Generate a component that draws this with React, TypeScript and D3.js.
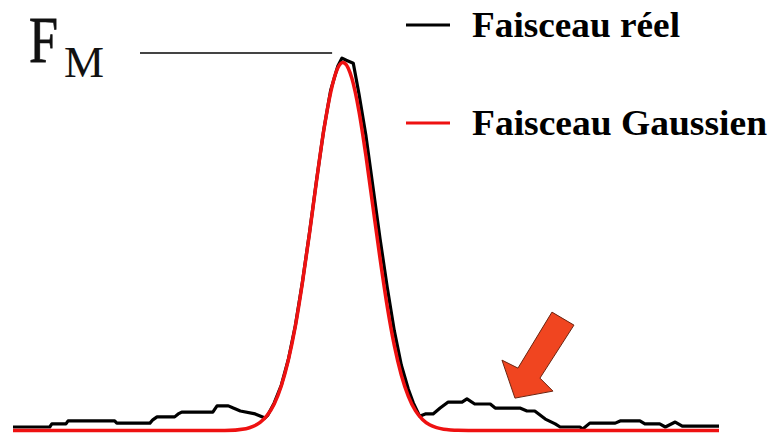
import { line, scaleLinear, curveLinear, curveMonotoneX } from 'd3';
import React from 'react';

// beam profile, position in arbitrary units, intensity normalised to the gaussian peak
const realPos = [
  0, 5.2, 5.5, 7.5, 7.8, 14.4, 14.7, 19.4, 19.8, 20.4, 22.9, 23.4, 23.9, 28.3, 28.9, 30.5,
  31.2, 32.2, 34.3, 35.7, 36.1, 37, 38, 39, 40, 41, 42, 43, 44, 45, 46, 46.6, 47.2, 48.2,
  49, 50, 51, 52, 53, 54, 55, 56, 56.7, 57.6, 58.4, 59.5, 60.5, 61.6, 63.6, 64.3, 65.4,
  67.6, 68.3, 71.8, 72.8, 73.9, 75.4, 76.8, 77.5, 80.3, 80.7, 81.7, 85.3, 86, 88.8, 89.5,
  91.6, 92.4, 93.8, 94.8, 100,
];
const realVal = [
  0.0095, 0.0095, 0.018, 0.018, 0.026, 0.026, 0.02, 0.02, 0.029, 0.037, 0.037, 0.045, 0.05,
  0.05, 0.067, 0.067, 0.061, 0.053, 0.045, 0.034, 0.042, 0.075, 0.123, 0.193, 0.286, 0.404,
  0.538, 0.681, 0.815, 0.925, 0.99, 1.012, 1.006, 0.998, 0.915, 0.8, 0.66, 0.52, 0.39, 0.272,
  0.178, 0.112, 0.075, 0.039, 0.045, 0.045, 0.061, 0.077, 0.077, 0.086, 0.072, 0.072, 0.061,
  0.061, 0.053, 0.053, 0.031, 0.018, 0.0095, 0.0095, 0.004, 0.02, 0.02, 0.026, 0.026, 0.018,
  0.018, 0.0095, 0.023, 0.012, 0.012,
];
const gaussPos = [
  0, 30, 33, 34, 35, 36, 37, 38, 39, 40, 41, 42, 43, 44, 45, 46, 46.7, 47, 48, 49, 50, 51,
  52, 53, 54, 55, 56, 57, 58, 59, 60, 61, 62, 63, 66, 100,
];
const gaussVal = [
  0, 0, 0.005, 0.011, 0.022, 0.041, 0.072, 0.121, 0.191, 0.284, 0.402, 0.536, 0.679, 0.813,
  0.919, 0.985, 1, 0.998, 0.957, 0.868, 0.745, 0.605, 0.466, 0.338, 0.232, 0.151, 0.093,
  0.054, 0.03, 0.0155, 0.0077, 0.0036, 0.0016, 0.0006, 0, 0,
];
const legendLabels = ['Faisceau réel', 'Faisceau Gaussien'];
const legendColors = ['#000000', '#ee1111'];
const legendWidths = [208, 295];
const fmLevel = 1.026;
const arrowTip = { pos: 71.1, val: 0.088 };

const W = 768;
const H = 433;

const App: React.FC = () => {
  const x = scaleLinear().domain([0, 100]).range([13, 719]);
  const y = scaleLinear().domain([0, 1]).range([430.5, 62.5]);

  const real = realPos.map((p, i) => ({ p, v: realVal[i] }));
  const gauss = gaussPos.map((p, i) => ({ p, v: gaussVal[i] }));

  const realLine = line<{ p: number; v: number }>()
    .x((d) => x(d.p))
    .y((d) => y(d.v))
    .curve(curveLinear);
  const gaussLine = line<{ p: number; v: number }>()
    .x((d) => x(d.p))
    .y((d) => y(d.v))
    .curve(curveMonotoneX);

  const tx = x(arrowTip.pos);
  const ty = y(arrowTip.val);
  const arrow = [
    [0, 0],
    [-13, -38],
    [3, -30],
    [37, -86],
    [59, -73],
    [25, -20],
    [38, -7],
  ]
    .map(([dx, dy]) => `${tx + dx},${ty + dy}`)
    .join(' ');

  return (
    <svg
      width={W}
      height={H}
      style={{ position: 'absolute', left: 0, top: 0, background: '#fff' }}
    >
      {/* F_M label and its level line */}
      <text
        x={29}
        y={62}
        fontFamily="'Liberation Serif', serif"
        fontSize={65}
        textLength={29}
        lengthAdjust="spacingAndGlyphs"
        fill="#111"
        stroke="#111"
        strokeWidth={0.8}
      >
        F
      </text>
      <text x={64} y={77} fontFamily="'Liberation Serif', serif" fontSize={45} fill="#111">
        M
      </text>
      <line
        x1={140}
        x2={x(45.2)}
        y1={y(fmLevel)}
        y2={y(fmLevel)}
        stroke="#444"
        strokeWidth={2}
      />

      {/* curves */}
      <path
        d={realLine(real) ?? ''}
        fill="none"
        stroke="#000"
        strokeWidth={3.2}
        strokeLinejoin="round"
      />
      <path
        d={gaussLine(gauss) ?? ''}
        fill="none"
        stroke="#ee1111"
        strokeWidth={3.5}
        strokeLinejoin="round"
      />

      {/* arrow pointing at the side lobe */}
      <polygon points={arrow} fill="#f04520" stroke="#6b2410" strokeWidth={1} />

      {/* legend */}
      {legendLabels.map((label, i) => (
        <g key={label} transform={`translate(0, ${i * 98})`}>
          <line x1={406} x2={450} y1={25} y2={25} stroke={legendColors[i]} strokeWidth={3} />
          <text
            x={472}
            y={37}
            fontFamily="'Liberation Serif', serif"
            fontWeight="bold"
            fontSize={36}
            textLength={legendWidths[i]}
            lengthAdjust="spacingAndGlyphs"
            fill="#000"
          >
            {label}
          </text>
        </g>
      ))}
    </svg>
  );
};

export default App;
